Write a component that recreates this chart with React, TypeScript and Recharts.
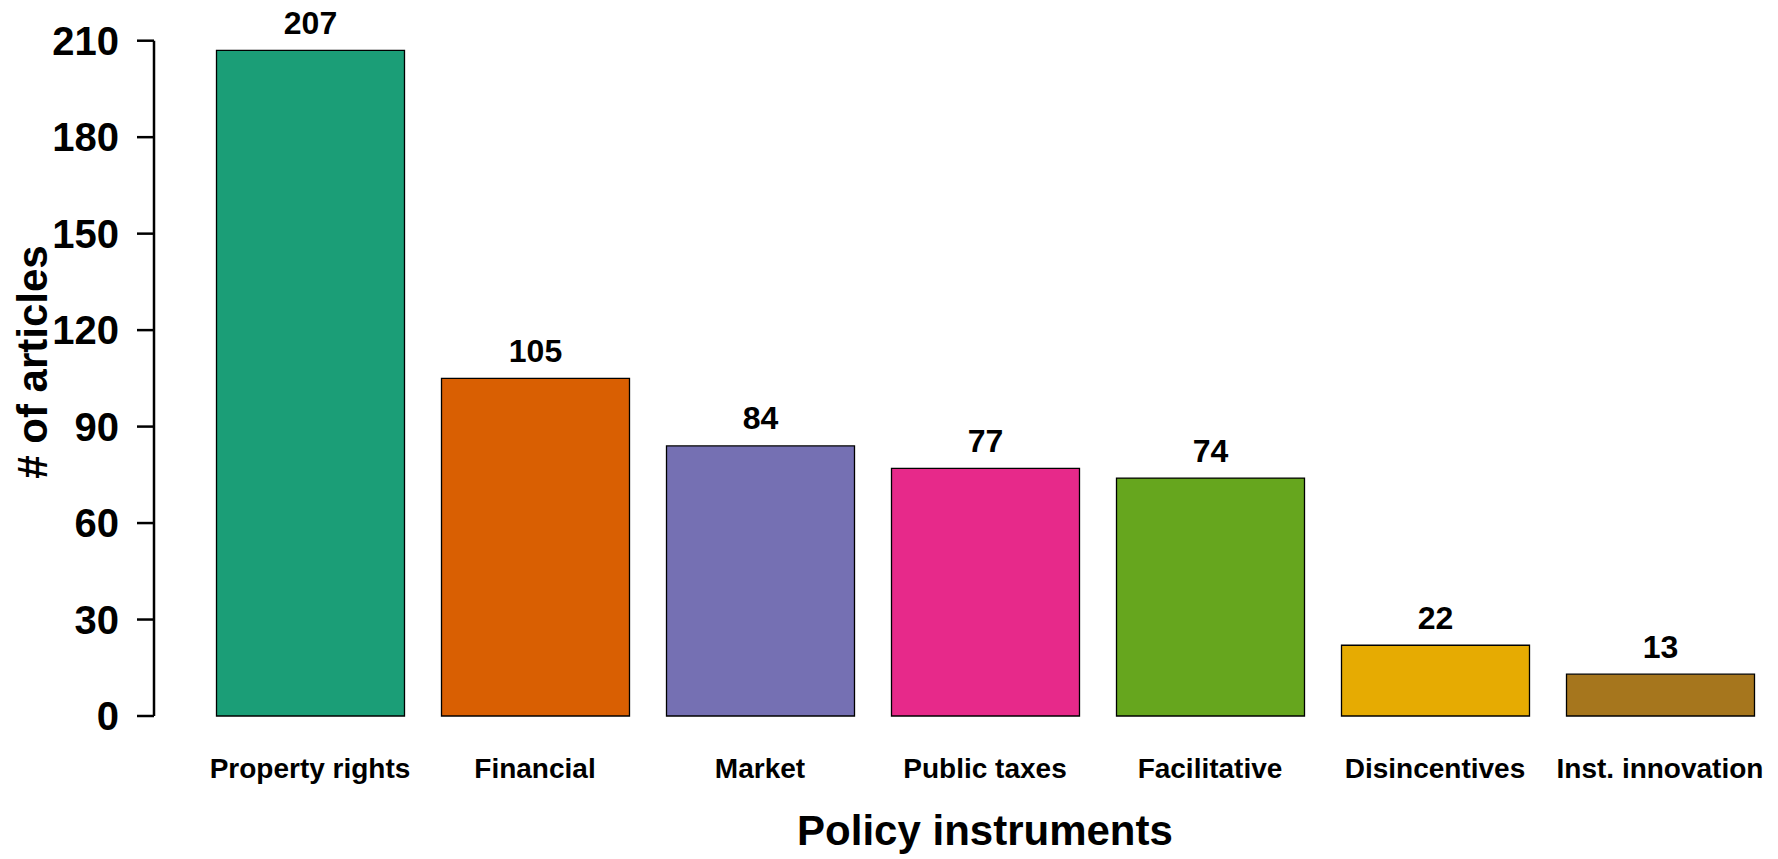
import { BarChart, Bar, Cell, XAxis, YAxis, LabelList, Label } from 'recharts';

const categories = [
  'Property rights',
  'Financial',
  'Market',
  'Public taxes',
  'Facilitative',
  'Disincentives',
  'Inst. innovation',
];
const articleCounts = [207, 105, 84, 77, 74, 22, 13];
const yTicks = [0, 30, 60, 90, 120, 150, 180, 210];

// Dark2 palette
const palette = ['#1B9E77', '#D95F02', '#7570B3', '#E7298A', '#66A61E', '#E6AB02', '#A6761D'];

const data = categories.map((name, i) => ({ name, value: articleCounts[i] }));

const FONT = '"Liberation Sans", Arial, Helvetica, sans-serif';

const App = () => {
  return (
    <div
      style={{
        position: 'absolute',
        left: 0,
        top: 0,
        width: 1778,
        height: 859,
        background: '#fff',
        fontFamily: FONT,
      }}
    >
      <BarChart
        width={1778}
        height={859}
        data={data}
        margin={{ top: 40.7, right: 5.5, bottom: 0, left: 0 }}
      >
        <XAxis
          dataKey="name"
          axisLine={false}
          tickLine={false}
          tickSize={0}
          tickMargin={42}
          height={143}
          padding={{ left: 43.5, right: 0 }}
          interval={0}
          tick={{ fill: '#000', fontSize: 28, fontWeight: 'bold' }}
        >
          <Label
            content={() => (
              <text
                x={985}
                y={845}
                textAnchor="middle"
                fontSize={42}
                fontWeight="bold"
                fill="#000"
              >
                Policy instruments
              </text>
            )}
          />
        </XAxis>
        <YAxis
          width={154}
          domain={[0, 210]}
          ticks={yTicks}
          interval={0}
          tickSize={17}
          tickMargin={18}
          axisLine={{ stroke: '#000', strokeWidth: 2.5 }}
          tickLine={{ stroke: '#000', strokeWidth: 2.5 }}
          tick={{ fill: '#000', fontSize: 40, fontWeight: 'bold' }}
        >
          <Label
            content={() => (
              <text
                x={47}
                y={362}
                transform="rotate(-90 47 362)"
                textAnchor="middle"
                fontSize={42}
                fontWeight="bold"
                fill="#000"
              >
                # of articles
              </text>
            )}
          />
        </YAxis>
        <Bar
          dataKey="value"
          barSize={188}
          stroke="#000"
          strokeWidth={1.3}
          isAnimationActive={false}
        >
          {data.map((d, i) => (
            <Cell key={d.name} fill={palette[i]} />
          ))}
          <LabelList
            dataKey="value"
            position="top"
            offset={16.5}
            fill="#000"
            fontSize={32}
            fontWeight="bold"
          />
        </Bar>
      </BarChart>
    </div>
  );
};

export default App;
